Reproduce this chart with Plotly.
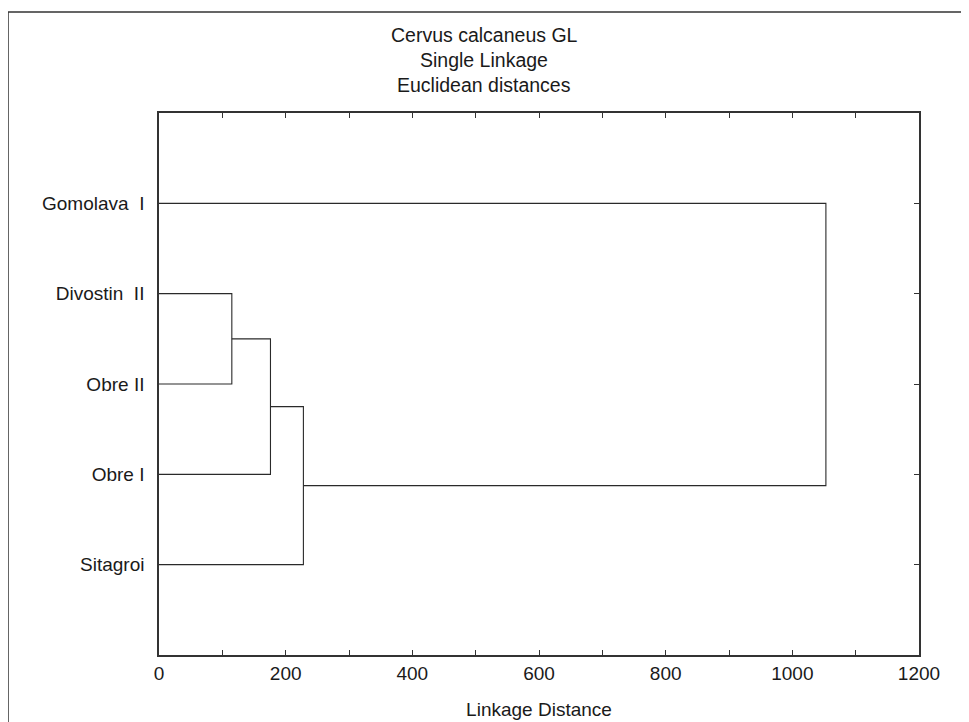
import plotly.graph_objects as go

# ---- data ----
labels = ["Gomolava\u00a0\u00a0I", "Divostin\u00a0\u00a0II", "Obre II", "Obre I", "Sitagroi"]
# merges: (child_a, child_b, linkage distance); children >= len(labels) refer to earlier merges
merge_a = [1, 5, 6, 0]
merge_b = [2, 3, 4, 7]
merge_h = [115, 176, 228, 1053]
x_ticks = [0, 200, 400, 600, 800, 1000, 1200]
title_lines = ["Cervus calcaneus GL", "Single Linkage", "Euclidean distances"]

# ---- build dendrogram segments from the linkage ----
n = len(labels)
pos = {i: i + 1 for i in range(n)}
height = {i: 0 for i in range(n)}
xs, ys = [], []
for k, (a, b, h) in enumerate(zip(merge_a, merge_b, merge_h)):
    xs += [height[a], h, h, height[b], None]
    ys += [pos[a], pos[a], pos[b], pos[b], None]
    node = n + k
    pos[node] = (pos[a] + pos[b]) / 2
    height[node] = h

W, H = 969, 722
OFF = 8  # page body margin
L, R, T, B = 159 - OFF, 919 - OFF, 113 - OFF, 655 - OFF
font = "Liberation Sans, Arial, sans-serif"
col = "#1a1a1a"
FS = 19

fig = go.Figure()
fig.add_trace(go.Scatter(x=xs, y=ys, mode="lines",
                         line=dict(color="#2a2a2a", width=1.1),
                         hoverinfo="skip", showlegend=False))
fig.add_trace(go.Scatter(x=[0], y=[0], yaxis="y2", mode="markers",
                         marker=dict(opacity=0), hoverinfo="skip", showlegend=False))

def pxx(p):
    return (p - OFF - L) / (R - L)

def pxy(p):
    return (B - (p - OFF)) / (B - T)

annotations = []
for i, t in enumerate(title_lines):
    annotations.append(dict(text=t, xref="paper", yref="paper",
                            x=pxx(484), y=pxy(35 + 25 * i),
                            xanchor="center", yanchor="middle", showarrow=False,
                            font=dict(family=font, size=19.5, color=col)))

fig.update_layout(
    width=W, height=H,
    margin=dict(l=L, r=W - R, t=T, b=H - B),
    paper_bgcolor="white", plot_bgcolor="white",
    font=dict(family=font, size=FS, color=col),
    showlegend=False,
    annotations=annotations,
    shapes=[dict(type="rect", xref="paper", yref="paper",
                 x0=pxx(8), x1=pxx(990), y0=pxy(12), y1=pxy(760),
                 line=dict(color="#333", width=1.5), fillcolor="rgba(0,0,0,0)", layer="below")],
    xaxis=dict(range=[0, 1200], tickvals=x_ticks, ticks="inside", ticklen=5,
               tickcolor="#333", minor=dict(dtick=100, ticks="inside", ticklen=5, tickcolor="#333"),
               showline=True, linecolor="#333", linewidth=1.5, mirror="ticks",
               showgrid=False, zeroline=False,
               tickfont=dict(family=font, size=FS, color=col),
               title=dict(text="Linkage Distance", standoff=20,
                          font=dict(family=font, size=FS, color=col))),
    yaxis=dict(range=[6, 0], tickvals=list(range(1, n + 1)), ticktext=labels,
               ticks="", showline=True, linecolor="#333", linewidth=1.5, mirror=True,
               showgrid=False, zeroline=False, ticklabelstandoff=9,
               tickfont=dict(family=font, size=FS, color=col)),
    yaxis2=dict(range=[6, 0], tickvals=list(range(1, n + 1)), overlaying="y", side="right",
                ticks="inside", ticklen=5, tickcolor="#333", showticklabels=False,
                showline=False, showgrid=False, zeroline=False),
)

fig.write_html("out.html")
